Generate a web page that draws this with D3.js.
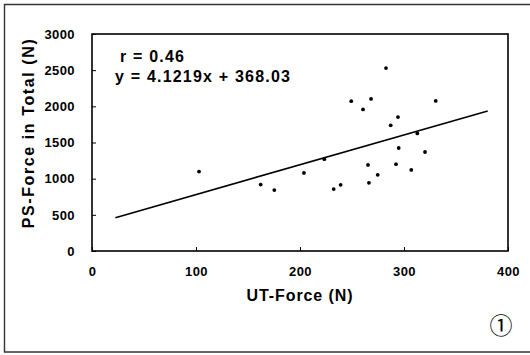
<!DOCTYPE html>
<html>
<head>
<meta charset="utf-8">
<script src="https://cdn.jsdelivr.net/npm/d3@7"></script>
<style>
  html, body { margin: 0; padding: 0; background: #fff; }
  svg { display: block; }
</style>
</head>
<body>
<svg id="chart" width="530" height="355"></svg>
<script>
// UT-Force (N) vs PS-Force in Total (N)
const utForce = [102.9, 162.2, 175.3, 203.8, 223.4, 232.4, 239.1, 249.3, 260.6, 268.3,
                 265.4, 266.3, 274.7, 282.7, 287.2, 294.2, 294.9, 292.3, 307, 312.8, 320.2, 330.5];
const psForce = [1098, 919, 842, 1080, 1269, 856, 915, 2071, 1957, 2103,
                 1190, 943, 1053, 2529, 1737, 1851, 1424, 1200, 1121, 1626, 1369, 2075];

const xTicks = [0, 100, 200, 300, 400];
const yTicks = [0, 500, 1000, 1500, 2000, 2500, 3000];

// fitted line as printed on the chart
const slope = 4.1219;
const intercept = 368.03;
const fitRange = [22.5, 380.5];
const labelR = "r = 0.46";
const labelEq = "y = 4.1219x + 368.03";

const svg = d3.select("#chart");
const margin = { top: 34, right: 22, bottom: 104, left: 92 };
const width = 530 - margin.left - margin.right;
const height = 355 - margin.top - margin.bottom;

const x = d3.scaleLinear().domain([0, 400]).range([margin.left, margin.left + width]);
const y = d3.scaleLinear().domain([0, 3000]).range([margin.top + height, margin.top]);

// Outer page frame (left, top, bottom only, like the scan)
svg.append("path")
    .attr("d", "M530,4.5 L4.5,4.5 L4.5,352 L530,352")
    .attr("fill", "none")
    .attr("stroke", "#333")
    .attr("stroke-width", 1.4);

const font = "'Liberation Sans', Arial, Helvetica, sans-serif";

// Y axis
const yAxis = svg.append("g")
    .attr("transform", `translate(${margin.left},0)`)
    .call(d3.axisLeft(y).tickValues(yTicks).tickFormat(d3.format("d"))
        .tickSizeInner(-4).tickSizeOuter(0).tickPadding(17));
yAxis.select(".domain").remove();
yAxis.selectAll("line").attr("stroke", "#000").attr("stroke-width", 1);
yAxis.selectAll("text")
    .attr("font-family", font)
    .attr("font-weight", "bold")
    .attr("font-size", "13px")
    .attr("letter-spacing", "0.4px")
    .attr("fill", "#000");

// X axis
const xAxis = svg.append("g")
    .attr("transform", `translate(0,${margin.top + height})`)
    .call(d3.axisBottom(x).tickValues(xTicks).tickFormat(d3.format("d"))
        .tickSizeInner(-4).tickSizeOuter(0).tickPadding(16));
xAxis.select(".domain").remove();
xAxis.selectAll("line").attr("stroke", "#000").attr("stroke-width", 1);
xAxis.selectAll("text")
    .attr("font-family", font)
    .attr("font-weight", "bold")
    .attr("font-size", "13px")
    .attr("letter-spacing", "0.4px")
    .attr("fill", "#000");

// Plot frame
svg.append("rect")
    .attr("x", margin.left)
    .attr("y", margin.top)
    .attr("width", width)
    .attr("height", height)
    .attr("fill", "none")
    .attr("stroke", "#000")
    .attr("stroke-width", 1.6);

// Regression line
svg.append("line")
    .attr("x1", x(fitRange[0]))
    .attr("y1", y(slope * fitRange[0] + intercept))
    .attr("x2", x(fitRange[1]))
    .attr("y2", y(slope * fitRange[1] + intercept))
    .attr("stroke", "#000")
    .attr("stroke-width", 1.6);

// Points
svg.append("g")
    .selectAll("circle")
    .data(utForce.map((d, i) => [d, psForce[i]]))
    .join("circle")
    .attr("cx", d => x(d[0]))
    .attr("cy", d => y(d[1]))
    .attr("r", 1.9)
    .attr("fill", "#000");

// Annotation
svg.append("text")
    .attr("x", 120)
    .attr("y", 62)
    .attr("font-family", font)
    .attr("font-weight", "bold")
    .attr("font-size", "16px")
    .attr("letter-spacing", "1.2px")
    .text(labelR);
svg.append("text")
    .attr("x", 115)
    .attr("y", 82)
    .attr("font-family", font)
    .attr("font-weight", "bold")
    .attr("font-size", "16px")
    .attr("letter-spacing", "1.2px")
    .text(labelEq);

// Axis titles
svg.append("text")
    .attr("x", x(200))
    .attr("y", 301)
    .attr("text-anchor", "middle")
    .attr("font-family", font)
    .attr("font-weight", "bold")
    .attr("font-size", "16px")
    .attr("letter-spacing", "0.9px")
    .text("UT-Force (N)");

svg.append("text")
    .attr("transform", "translate(34,133) rotate(-90)")
    .attr("text-anchor", "middle")
    .attr("font-family", font)
    .attr("font-weight", "bold")
    .attr("font-size", "16px")
    .attr("letter-spacing", "1.6px")
    .text("PS-Force in Total (N)");

// Panel marker
svg.append("text")
    .attr("x", 501)
    .attr("y", 334)
    .attr("text-anchor", "middle")
    .attr("font-family", "'Noto Sans CJK JP', sans-serif")
    .attr("font-size", "23px")
    .text("①");
</script>
</body>
</html>
